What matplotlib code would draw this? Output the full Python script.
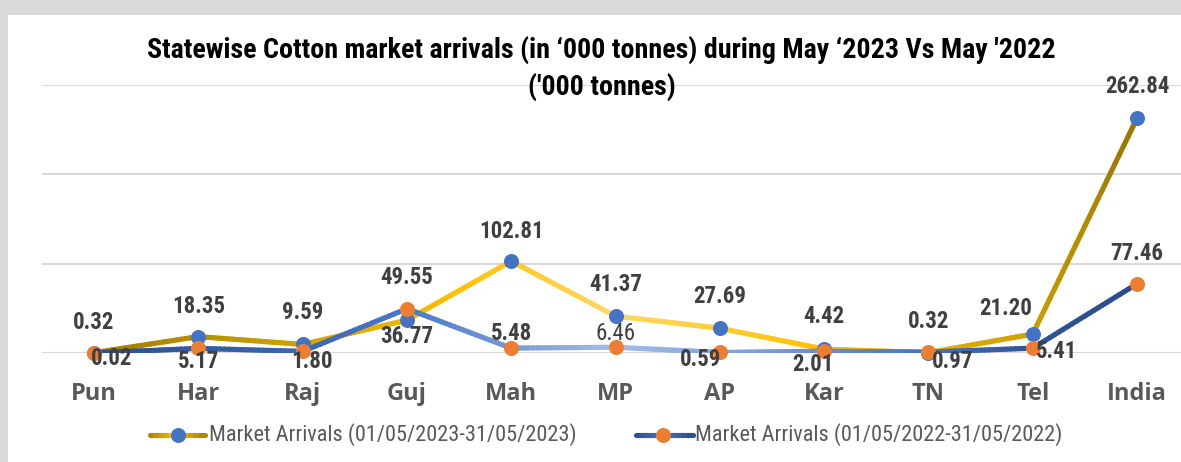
import numpy as np
import matplotlib
matplotlib.use('Agg')
import matplotlib.pyplot as plt
from matplotlib.collections import LineCollection
from matplotlib.colors import LinearSegmentedColormap
from matplotlib.lines import Line2D
from matplotlib.patches import Rectangle

# ---------------- data ----------------
states = ['Pun', 'Har', 'Raj', 'Guj', 'Mah', 'MP', 'AP', 'Kar', 'TN', 'Tel', 'India']
arrivals_2023 = [0.32, 18.35, 9.59, 36.77, 102.81, 41.37, 27.69, 4.42, 0.32, 21.20, 262.84]
arrivals_2022 = [0.02, 5.17, 1.80, 49.55, 5.48, 6.46, 0.59, 2.01, 0.97, 5.41, 77.46]
series_names = ['Market Arrivals (01/05/2023-31/05/2023)',
                'Market Arrivals (01/05/2022-31/05/2022)']
title_line1 = "Statewise Cotton market arrivals (in \u2018000 tonnes) during May \u20182023 Vs May '2022"
title_line2 = "('000 tonnes)"

# ---------------- style ----------------
W, H = 1181, 462
NARROW = ['Roboto Condensed', 'Liberation Sans', 'DejaVu Sans']
CAT_FONT = ['Open Sans', 'DejaVu Sans']
LABEL_C = '#404040'
CAT_C = '#595959'
GRID_C = '#D9D9D9'

gold_stops = [(0, '#A07C00'), (2, '#D0A400'), (3.5, '#FFC000'), (5, '#FFD966'),
              (7, '#FFC000'), (9, '#CFA000'), (10, '#9A7600')]
blue_stops = [(0, '#2C4F8C'), (2, '#3C66B0'), (3, '#4A78C8'), (5, '#A4BDE6'),
              (7, '#6A8ED4'), (8, '#4472C4'), (9, '#2F5597'), (10, '#2B4C87')]

# label centre offsets in pixels (dx, dy up)
off_2023 = [(0, 32), (0, 32), (0, 33), (0, -15), (0, 31), (0, 33), (0, 33), (0, 34), (0, 33), (-27, 27), (0, 33)]
off_2022 = [(18, -4), (0, -12), (9, -9), (0, 33), (0, 16), (0, 15), (-19, -6), (-11, -12), (24, -8), (24, -2), (0, 32)]

LW = 3.7
MS = 10.8
LABEL_FS = 16.5


def px(x, y):
    return x / W, 1 - y / H


def gradient_line(ax, xv, yv, stops, lw, z):
    n = len(xv) - 1
    cmap = LinearSegmentedColormap.from_list(
        'g', [(p / n, c) for p, c in stops])
    segs, cols = [], []
    for i in range(n):
        t = np.linspace(0, 1, 25)
        xs = xv[i] + (xv[i + 1] - xv[i]) * t
        ys = yv[i] + (yv[i + 1] - yv[i]) * t
        for j in range(len(t) - 1):
            segs.append([(xs[j], ys[j]), (xs[j + 1], ys[j + 1])])
            cols.append(cmap(((xs[j] + xs[j + 1]) / 2) / n))
    lc = LineCollection(segs, colors=cols, linewidths=lw, capstyle='round',
                        joinstyle='round', zorder=z)
    ax.add_collection(lc)


fig = plt.figure(figsize=(W / 100, H / 100), dpi=100)
fig.patch.set_facecolor('#D9D9D9')
fig.add_artist(Rectangle(px(7.5, H), (W - 7.5) / W, (H - 14.5) / H,
                         transform=fig.transFigure, facecolor='white',
                         edgecolor='none', zorder=0))

x_left, x_right = 41.85, 1189.15
y_top, y_bot = 85, 353
ax = fig.add_axes([x_left / W, 1 - y_bot / H, (x_right - x_left) / W, (y_bot - y_top) / H])
ax.set_facecolor('none')
ax.set_xlim(-0.5, len(states) - 0.5)
ax.set_ylim(0, 300)
ax.set_yticks([0, 100, 200, 300])
ax.set_xticks([])
ax.tick_params(left=False, labelleft=False)
for s in ax.spines.values():
    s.set_visible(False)
ax.grid(axis='y', color=GRID_C, lw=1.5, zorder=1)
ax.set_axisbelow(True)

xi = np.arange(len(states))

gradient_line(ax, xi, arrivals_2023, gold_stops, LW, 3)
ax.plot(xi, arrivals_2023, 'o', ms=MS, mfc='#4472C4', mec='none', zorder=4, clip_on=False)
gradient_line(ax, xi, arrivals_2022, blue_stops, LW, 5)
ax.plot(xi, arrivals_2022, 'o', ms=MS, mfc='#ED7D31', mec='none', zorder=6, clip_on=False)

CAP_HALF = 8  # half cap height in px for the label digits


def put_labels(vals, offs, z, regular_idx=()):
    for i, (v, (dx, dy)) in enumerate(zip(vals, offs)):
        ax.annotate(f'{v:.2f}', (i, v), xytext=(dx, dy - CAP_HALF),
                    textcoords='offset pixels', ha='center', va='baseline',
                    fontsize=LABEL_FS, family=NARROW,
                    fontweight='normal' if i in regular_idx else 'bold',
                    color=LABEL_C, zorder=z, annotation_clip=False)


put_labels(arrivals_2023, off_2023, 7)
put_labels(arrivals_2022, off_2022, 8, regular_idx=(5,))

# category labels
for i, s in enumerate(states):
    ax.text(i, -(400 - y_bot) / (y_bot - y_top) * 300, s, ha='center', va='baseline',
            fontsize=17, family=CAT_FONT, fontweight='bold', color=CAT_C,
            clip_on=False)

# title
fig.text(601 / W, 1 - 50 / H, title_line1, ha='center', va='center',
         fontsize=20.2, family=NARROW, fontweight='bold', color='black')
fig.text(602 / W, 1 - 87 / H, title_line2, ha='center', va='center',
         fontsize=20.2, family=NARROW, fontweight='bold', color='black')


# legend (manual)
def legend_item(x0, x1, xm, xt, y, stops_ends, mcol, text):
    t = np.linspace(0, 1, 12)
    cmap = LinearSegmentedColormap.from_list('l', stops_ends)
    segs = []
    cols = []
    for j in range(len(t) - 1):
        a = x0 + (x1 - x0) * t[j]
        b = x0 + (x1 - x0) * t[j + 1]
        segs.append([px(a, y), px(b, y)])
        cols.append(cmap((t[j] + t[j + 1]) / 2))
    lc = LineCollection(segs, colors=cols, linewidths=LW, capstyle='round',
                        transform=fig.transFigure, zorder=10)
    fig.add_artist(lc)
    fig.add_artist(Line2D([px(xm, y)[0]], [px(xm, y)[1]], marker='o', ms=MS,
                          mfc=mcol, mec='none', transform=fig.transFigure, zorder=11))
    fig.text(*px(xt, y), text, ha='left', va='center', fontsize=16,
             family=NARROW, color=CAT_C, zorder=12)


legend_item(150, 205, 178, 209, 435, ['#A88300', '#FFC000', '#A88300'], '#4472C4', series_names[0])
legend_item(636, 693, 663, 695, 435, ['#2C4F8C', '#4472C4', '#2C4F8C'], '#ED7D31', series_names[1])

fig.savefig('out.png', dpi=100, facecolor=fig.get_facecolor())
